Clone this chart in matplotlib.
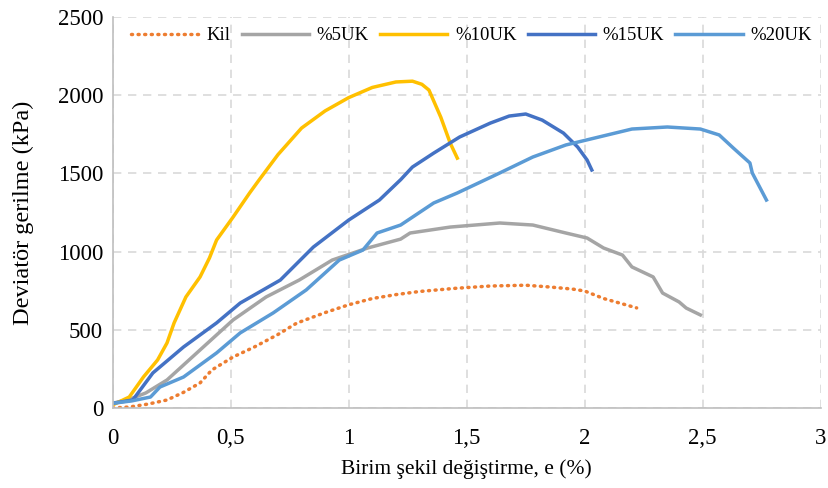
import matplotlib.pyplot as plt
from matplotlib.ticker import FuncFormatter

plt.rcParams['font.family'] = ['Liberation Serif', 'DejaVu Serif']

kil_x = [0, 0.07, 0.15, 0.23, 0.3, 0.37, 0.42, 0.51, 0.6, 0.7, 0.78, 0.9, 1.0, 1.1, 1.2,
         1.3, 1.45, 1.6, 1.75, 1.85, 1.95, 2.0, 2.08, 2.15, 2.22]
kil_y = [0, 6, 25, 51, 100, 160, 243, 326, 390, 470, 543, 610, 660, 700, 725,
         745, 765, 780, 785, 774, 760, 748, 700, 670, 640]

uk5_x = [0, 0.07, 0.14, 0.23, 0.37, 0.51, 0.65, 0.79, 0.93, 1.08, 1.22, 1.26, 1.43, 1.64,
         1.78, 1.92, 2.01, 2.08, 2.16, 2.20, 2.29, 2.33, 2.40, 2.43, 2.49]
uk5_y = [30, 55, 96, 179, 371, 563, 710, 818, 946, 1023, 1080, 1119, 1157, 1183,
         1170, 1119, 1087, 1023, 978, 902, 838, 735, 678, 639, 595]

uk10_x = [0, 0.07, 0.13, 0.19, 0.23, 0.26, 0.31, 0.37, 0.41, 0.44, 0.51, 0.58, 0.62, 0.7, 0.8,
          0.9, 1.0, 1.1, 1.2, 1.27, 1.31, 1.34, 1.39, 1.43, 1.46]
uk10_y = [20, 70, 198, 307, 416, 544, 710, 838, 960, 1074, 1221, 1375, 1458, 1620, 1790,
          1900, 1985, 2050, 2085, 2090, 2070, 2033, 1860, 1694, 1598]

uk15_x = [0, 0.085, 0.17, 0.30, 0.44, 0.54, 0.71, 0.85, 1.00, 1.13, 1.22, 1.27, 1.36, 1.47,
          1.60, 1.68, 1.75, 1.82, 1.91, 1.97, 2.01, 2.03]
uk15_y = [30, 51, 224, 390, 544, 671, 818, 1029, 1202, 1330, 1460, 1541, 1630, 1733,
          1822, 1867, 1880, 1841, 1758, 1669, 1586, 1522]

uk20_x = [0, 0.08, 0.16, 0.2, 0.30, 0.44, 0.54, 0.68, 0.82, 0.96, 1.06, 1.12, 1.22, 1.36,
          1.46, 1.64, 1.78, 1.92, 2.06, 2.20, 2.35, 2.49, 2.57, 2.63, 2.70, 2.71, 2.77]
uk20_y = [30, 45, 70, 134, 198, 352, 480, 608, 755, 946, 1010, 1119, 1170, 1311,
          1375, 1503, 1605, 1682, 1733, 1784, 1797, 1784, 1746, 1662, 1567, 1503, 1330]

fig = plt.figure(figsize=(8.29, 4.88), dpi=100)
ax = fig.add_axes([0.136, 0.164, 0.854, 0.801])

ax.plot(kil_x, kil_y, color='#ED7D31', linewidth=2.5, linestyle=(0, (0.3, 1.6)),
        dash_capstyle='round', label='Kil')
ax.plot(uk5_x, uk5_y, color='#A5A5A5', linewidth=2.5, label='%5UK')
ax.plot(uk10_x, uk10_y, color='#FFC000', linewidth=2.5, label='%10UK')
ax.plot(uk15_x, uk15_y, color='#4472C4', linewidth=2.5, label='%15UK')
ax.plot(uk20_x, uk20_y, color='#5B9BD5', linewidth=2.5, label='%20UK')

ax.set_xlim(0, 3)
ax.set_ylim(0, 2500)
ax.set_xticks([0, 0.5, 1, 1.5, 2, 2.5, 3])
ax.set_yticks([0, 500, 1000, 1500, 2000, 2500])
ax.xaxis.set_major_formatter(FuncFormatter(lambda v, p: ('%g' % v).replace('.', ',')))
ax.tick_params(labelsize=16.5, length=0)
ax.tick_params(axis='x', pad=14.5)
ax.tick_params(axis='y', pad=7)

ax.grid(True, linestyle=(0, (5, 4)), color='#D9D9D9', linewidth=1.2)
ax.set_axisbelow(True)
for s in ['top', 'right']:
    ax.spines[s].set_visible(False)
for s in ['left', 'bottom']:
    ax.spines[s].set_color('#BFBFBF')
    ax.spines[s].set_linewidth(1.2)

ax.set_xlabel('Birim şekil değiştirme, e (%)', fontsize=15.5, labelpad=7.5)
ax.set_ylabel('Deviatör gerilme (kPa)', fontsize=17.5, labelpad=17)

ax.legend(loc='upper center', ncol=5, frameon=False, fontsize=13.5,
          bbox_to_anchor=(0.507, 1.017), handlelength=3.6, columnspacing=0.6,
          handletextpad=0.4)

fig.savefig('out.png', dpi=100)
